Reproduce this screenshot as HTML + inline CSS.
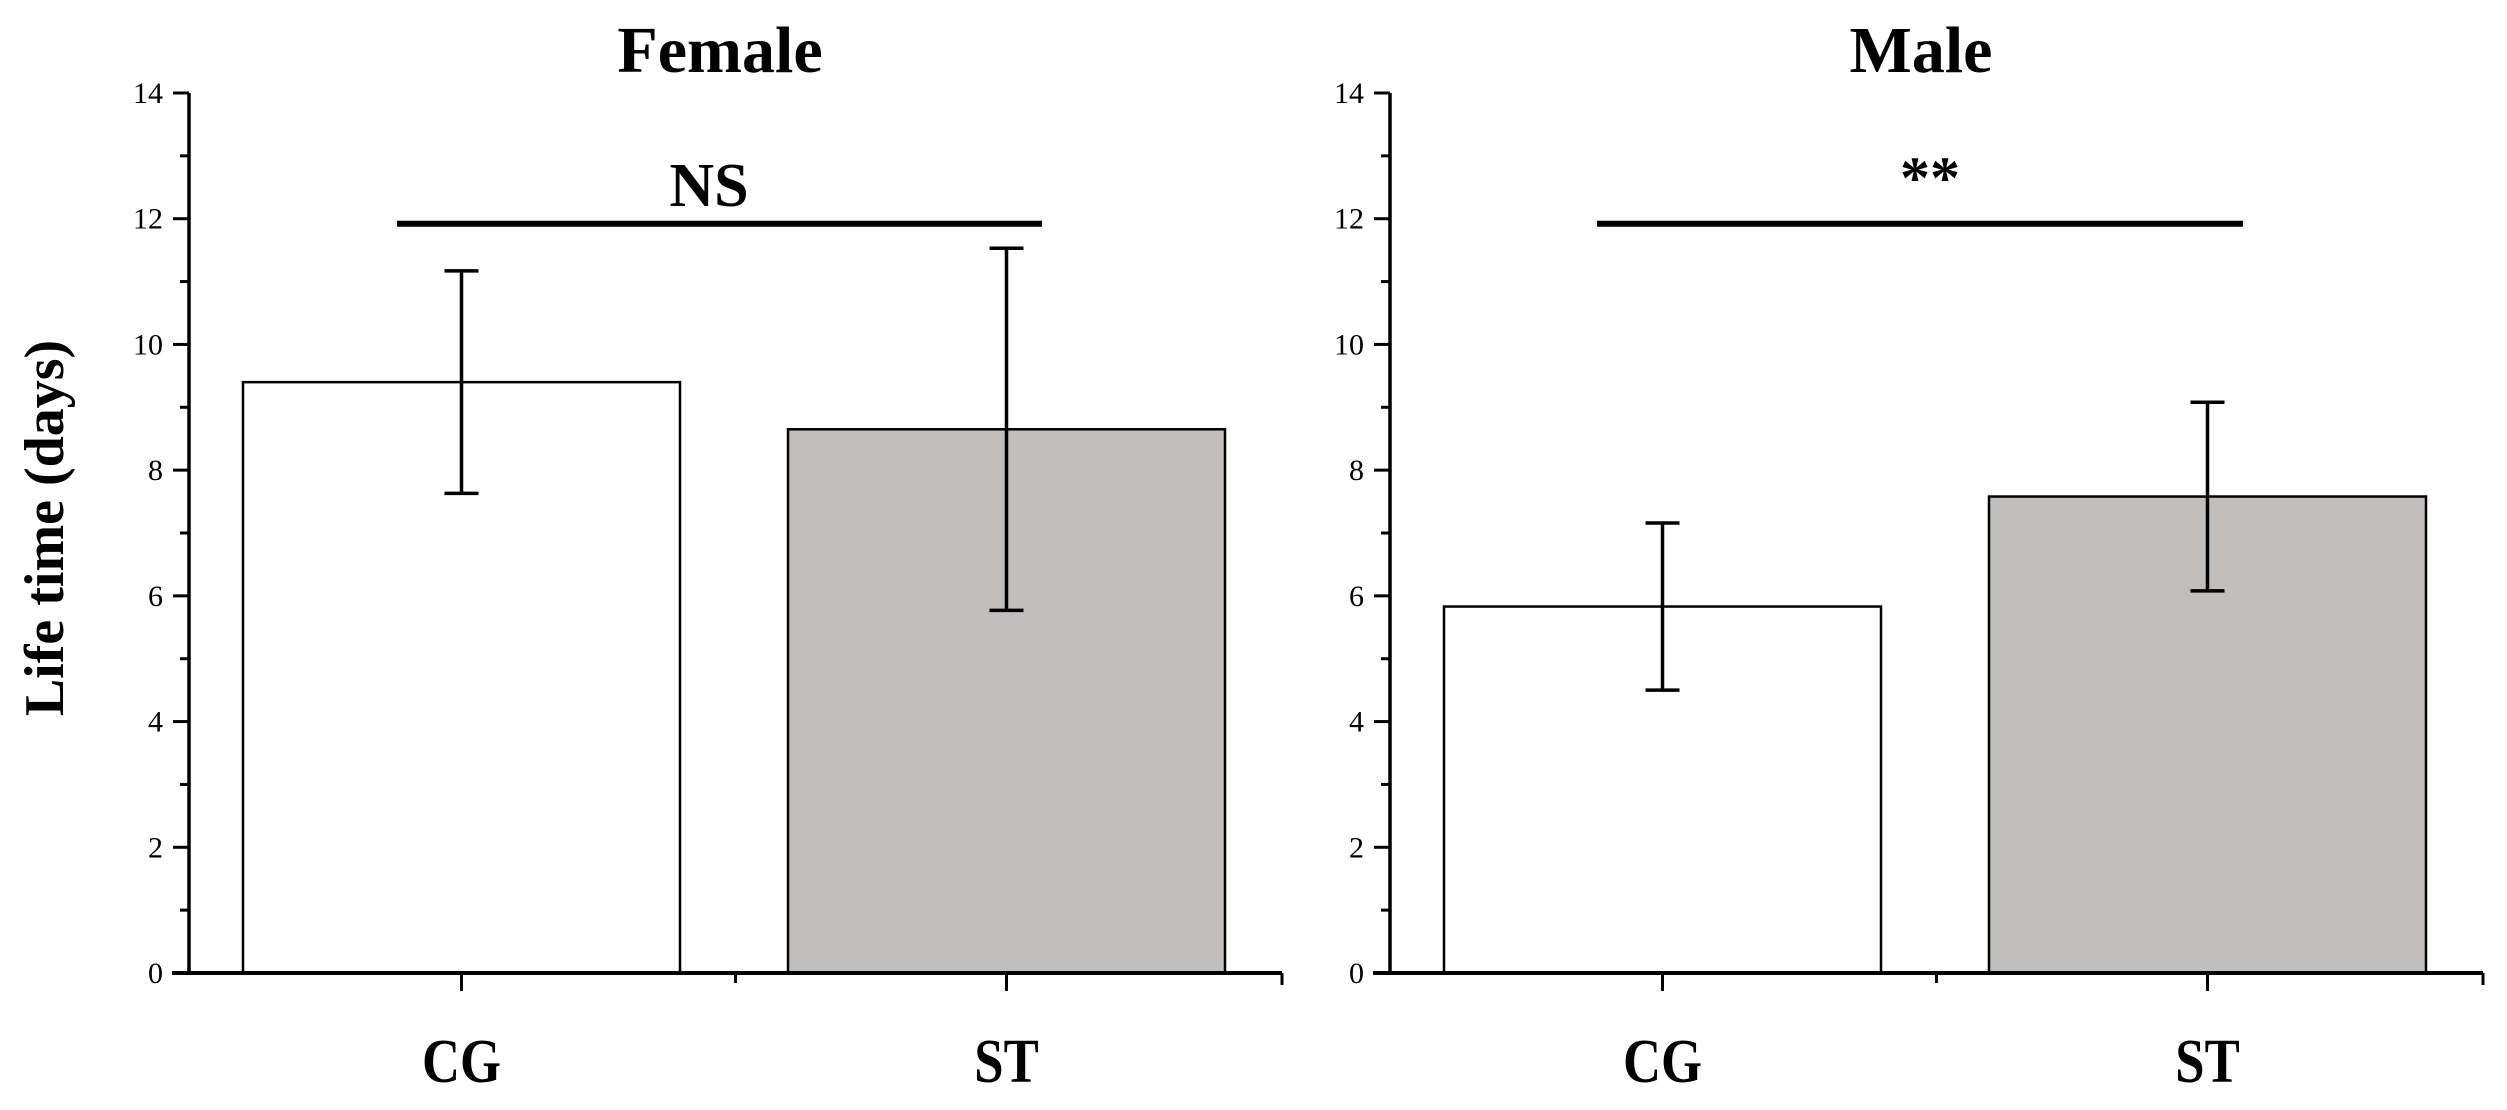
<!DOCTYPE html>
<html><head><meta charset="utf-8"><style>
body{margin:0;background:#fff}
svg{display:block}
text{font-family:"Liberation Serif",serif;fill:#000}
</style></head><body>
<svg id="c" width="2507" height="1110">
<text x="45" y="528" transform="rotate(-90 45 528)" text-anchor="middle" dominant-baseline="central" font-size="56" font-weight="bold">Life time (days)</text>
</svg>
<script>
const categories=["CG","ST"];
const panels=["Female","Male"];
const femaleMeans=[9.4,8.65];
const femaleErr=[1.77,2.88];
const maleMeans=[5.83,7.58];
const maleErr=[1.33,1.5];
const sigLabels=["NS","**"];
const sigValue=[11.92,11.92];
const yTicks=[0,2,4,6,8,10,12,14];
const series=[[femaleMeans,femaleErr],[maleMeans,maleErr]];
const svg=document.getElementById('c');
const NS='http://www.w3.org/2000/svg';
const y0=973,yTop=93,yMax=14;
function Y(v){return y0-(y0-yTop)*v/yMax;}
const panelX=[189,1390],panelW=1093,barW=437,barOff=54;
function mk(t,a,p){const e=document.createElementNS(NS,t);for(const k in a)e.setAttribute(k,a[k]);(p||svg).appendChild(e);return e;}
const sigSpan=[[397,1042],[1597,2243]];
const sigTextX=[709,1930];
const sigTextY=[206,198];
panels.forEach((name,pi)=>{
  const ox=panelX[pi];
  const g=mk('g',{});
  
  
  const t=mk('text',{x:ox+531,y:72,'text-anchor':'middle','font-size':66,'font-weight':'bold'},g);t.textContent=name;
  
  
  const [m,e]=series[pi];
  categories.forEach((c,ci)=>{
    const bx=ox+barOff+ci*(barW+108);
    const r=mk('rect',{x:bx,y:Y(m[ci]),width:barW,height:y0-Y(m[ci]),fill:ci?'#c1bebc':'#fff',stroke:'#000','stroke-width':2.5},g);
    
    
    const cx=bx+barW/2;
    const eb=mk('path',{d:`M${cx},${Y(m[ci]+e[ci])}V${Y(m[ci]-e[ci])}M${cx-17},${Y(m[ci]+e[ci])}h34M${cx-17},${Y(m[ci]-e[ci])}h34`,stroke:'#000','stroke-width':3.5,fill:'none'},g);
    
    
    const xl=mk('text',{x:cx,y:1082,'text-anchor':'middle','font-size':62,'font-weight':'bold',transform:`translate(${cx},0) scale(0.85,1) translate(${-cx},0)`},g);xl.textContent=c;
    
    
    mk('line',{x1:cx,x2:cx,y1:y0,y2:y0+18,stroke:'#000','stroke-width':3},g);
  });
  mk('line',{x1:ox+panelW/2,x2:ox+panelW/2,y1:y0,y2:y0+10,stroke:'#000','stroke-width':3},g);
  const ya=mk('line',{x1:ox,x2:ox,y1:yTop,y2:y0+2,stroke:'#000','stroke-width':3.5},g);
  
  
  const xa=mk('line',{x1:ox-17,x2:ox+panelW,y1:y0,y2:y0,stroke:'#000','stroke-width':4},g);
  
  
  mk('line',{x1:ox+panelW,x2:ox+panelW,y1:y0,y2:y0+12,stroke:'#000','stroke-width':3},g);
  yTicks.forEach(v=>{
    mk('line',{x1:ox-16,x2:ox,y1:Y(v),y2:Y(v),stroke:'#000','stroke-width':3},g);
    if(v<yMax)mk('line',{x1:ox-9,x2:ox,y1:Y(v+1),y2:Y(v+1),stroke:'#000','stroke-width':3},g);
    const tl=mk('text',{x:ox-26,y:Y(v)+10,'text-anchor':'end','font-size':30},g);tl.textContent=v;
    
    
  });
  const [sx1,sx2]=sigSpan[pi];
  const sl=mk('line',{x1:sx1,x2:sx2,y1:Y(sigValue[pi]),y2:Y(sigValue[pi]),stroke:'#000','stroke-width':6},g);
  
  
  const st=mk('text',{x:sigTextX[pi],y:sigTextY[pi],'text-anchor':'middle','font-size':pi?60:62,'font-weight':'bold'},g);st.textContent=sigLabels[pi];
  
  
});
</script>
</body></html>
